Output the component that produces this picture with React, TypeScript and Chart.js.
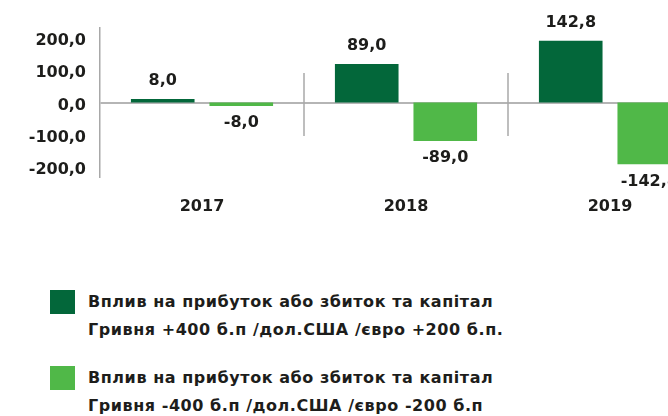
import React, { useEffect, useRef } from 'react';
import { Chart, registerables } from 'chart.js';

Chart.register(...registerables);

const categories = ['2017', '2018', '2019'];
const increaseValues = [8.0, 89.0, 142.8];
const decreaseValues = [-8.0, -89.0, -142.8];
const tickValues = [-200, -100, 0, 100, 200];
const seriesLabels = [
  ['Вплив на прибуток або збиток та капітал', 'Гривня +400 б.п /дол.США /євро +200 б.п.'],
  ['Вплив на прибуток або збиток та капітал', 'Гривня -400 б.п /дол.США /євро -200 б.п'],
];
const colors = ['#03673a', '#50b848'];
const FONT = "'DejaVu Sans', sans-serif";
const TEXT = '#1d1d1b';
const AXIS = '#a8a8a8';

const fmt = (v: number) => v.toFixed(1).replace('.', ',');

const separatorPlugin = {
  id: 'separators',
  beforeDatasetsDraw(chart: any) {
    const x = chart.scales.x;
    const yt = chart.scales.yt;
    const ctx = chart.ctx;
    ctx.save();
    ctx.strokeStyle = AXIS;
    ctx.lineWidth = 1.5;
    for (let i = 1; i < categories.length; i++) {
      const px = (x.getPixelForValue(i - 1) + x.getPixelForValue(i)) / 2;
      ctx.beginPath();
      ctx.moveTo(px, yt.getPixelForValue(tickValues[3]) + 3);
      ctx.lineTo(px, yt.getPixelForValue(tickValues[1]) + 1);
      ctx.stroke();
    }
    ctx.restore();
  },
};

const valueLabelPlugin = {
  id: 'valueLabels',
  afterDatasetsDraw(chart: any) {
    const ctx = chart.ctx;
    ctx.save();
    ctx.font = `bold 16px ${FONT}`;
    ctx.fillStyle = TEXT;
    ctx.textAlign = 'center';
    ctx.textBaseline = 'middle';
    chart.data.datasets.forEach((ds: any, di: number) => {
      const meta = chart.getDatasetMeta(di);
      meta.data.forEach((el: any, i: number) => {
        const v = ds.data[i];
        const y = v >= 0 ? el.y - 18 : el.y + 17;
        ctx.fillText(fmt(v), el.x, y);
      });
    });
    ctx.restore();
  },
};

export default function App() {
  const ref = useRef<HTMLCanvasElement | null>(null);

  useEffect(() => {
    if (!ref.current) return;
    const chart = new Chart(ref.current, {
      type: 'bar',
      data: {
        labels: categories,
        datasets: [
          {
            label: seriesLabels[0].join(' '),
            data: increaseValues,
            backgroundColor: colors[0],
            yAxisID: 'y',
            categoryPercentage: 0.77,
            barPercentage: 0.81,
          },
          {
            label: seriesLabels[1].join(' '),
            data: decreaseValues,
            backgroundColor: colors[1],
            yAxisID: 'y',
            categoryPercentage: 0.77,
            barPercentage: 0.81,
          },
        ],
      },
      options: {
        responsive: false,
        animation: false,
        layout: { padding: { top: 28, right: 6, left: 0, bottom: 0 } },
        plugins: { legend: { display: false }, tooltip: { enabled: false } },
        scales: {
          x: {
            grid: { display: false, drawTicks: false },
            border: { display: false },
            ticks: {
              padding: 20,
              color: TEXT,
              font: { family: FONT, weight: 'bold', size: 16 },
            },
            afterFit: (s: any) => {
              s.height = 58;
            },
          },
          y: {
            display: false,
            min: -172,
            max: 172,
          },
          yt: {
            position: 'left',
            min: -230,
            max: 230,
            afterBuildTicks: (s: any) => {
              s.ticks = tickValues.map((v) => ({ value: v }));
            },
            afterFit: (s: any) => {
              s.width = 100;
            },
            grid: {
              drawTicks: false,
              color: (c: any) => (c.tick && c.tick.value === 0 ? '#b5b5b5' : 'rgba(0,0,0,0)'),
              lineWidth: 2,
            },
            border: { display: true, color: AXIS, width: 1.5 },
            ticks: {
              padding: 14,
              labelOffset: 3,
              color: TEXT,
              font: { family: FONT, weight: 'bold', size: 16 },
              callback: (v: any) => fmt(Number(v)),
            },
          },
        },
      },
      plugins: [separatorPlugin, valueLabelPlugin],
    } as any);
    return () => chart.destroy();
  }, []);

  const itemStyle: React.CSSProperties = { display: 'flex', alignItems: 'flex-start' };
  const textStyle: React.CSSProperties = {
    fontFamily: FONT,
    fontWeight: 'bold',
    fontSize: 16,
    lineHeight: '28px',
    letterSpacing: '0.55px',
    color: TEXT,
    whiteSpace: 'nowrap',
  };

  return (
    <div
      style={{
        position: 'absolute',
        left: 0,
        top: 0,
        width: 668,
        height: 416,
        overflow: 'hidden',
        background: '#ffffff',
      }}
    >
      <canvas
        ref={ref}
        width={718}
        height={235}
        style={{ position: 'absolute', left: 0, top: 0, width: 718, height: 235 }}
      />
      <div style={{ position: 'absolute', left: 50, top: 288 }}>
        {seriesLabels.map((lines, i) => (
          <div key={i} style={{ ...itemStyle, marginBottom: i === 0 ? 20 : 0 }}>
            <div
              style={{
                width: 25,
                height: 24,
                background: colors[i],
                marginTop: 2,
                marginRight: 13,
                flex: 'none',
              }}
            />
            <div style={textStyle}>
              {lines.map((l, j) => (
                <div key={j}>{l}</div>
              ))}
            </div>
          </div>
        ))}
      </div>
    </div>
  );
}
